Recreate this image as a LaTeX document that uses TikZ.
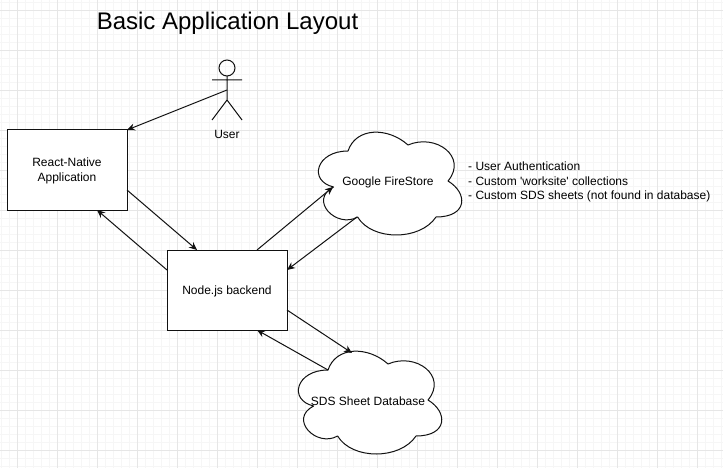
\documentclass[tikz,border=0pt]{standalone}
\usepackage{fontspec}
\setmainfont{Liberation Sans}
\usetikzlibrary{arrows.meta, positioning, calc}
\definecolor{gridmajor}{HTML}{E6E6E6}
\definecolor{gridminor}{HTML}{F6F6F6}
\definecolor{inkblack}{HTML}{111111}

\tikzset{
  boxnode/.style={draw=inkblack, fill=white, line width=1pt, inner sep=0pt, outer sep=0pt,
    minimum width=120pt, minimum height=80pt, align=center, font=\fontsize{12}{15}\selectfont},
  cloudtext/.style={inner sep=0pt, font=\fontsize{12}{15}\selectfont},
  flow/.style={draw=inkblack, line width=1pt, -{Stealth[length=8pt, width=7pt]}},
}

% cloud outline in a 160 x 120 box, top left corner at #1,#2
\newcommand{\drawcloud}[2]{
  \begin{scope}[shift={(#1,#2)}, x=1.6pt, y=-1.2pt]
    \draw[inkblack, fill=white, line width=1pt, line join=round]
      (25,25) .. controls (5,25) and (0,50) .. (16,55)
      .. controls (0,66) and (18,90) .. (31,80)
      .. controls (40,100) and (70,100) .. (80,80)
      .. controls (100,80) and (100,60) .. (87.5,50)
      .. controls (100,30) and (80,10) .. (62.5,20)
      .. controls (50,5) and (30,5) .. (25,25) -- cycle;
  \end{scope}
}

\begin{document}
\begin{tikzpicture}[x=1pt, y=-1pt]

  \useasboundingbox (0,0) rectangle (723,468);

  % === Background grid ===
  \fill[white] (0,0) rectangle (723,468);
  \foreach \gx in {1.5,9.5,...,721.5}
    \draw[gridminor, line width=1pt] (\gx,0) -- (\gx,468);
  \foreach \gy in {2.5,10.5,...,466.5}
    \draw[gridminor, line width=1pt] (0,\gy) -- (723,\gy);
  \foreach \gx in {17.5,57.5,...,697.5}
    \draw[gridmajor, line width=1pt] (\gx,0) -- (\gx,468);
  \foreach \gy in {10.5,50.5,...,450.5}
    \draw[gridmajor, line width=1pt] (0,\gy) -- (723,\gy);

  % Title
  \node[font=\fontsize{24}{28}\selectfont, inner sep=0pt] (title) at (227.5,23) {Basic Application Layout};

  % === User ===
  \draw[inkblack, line width=1pt] (227,68) circle (8);
  \draw[inkblack, line width=1pt] (227,76) -- (227,100)
    (212,80) -- (242,80)
    (212,120) -- (227,100) -- (242,120);
  \node[cloudtext] (userlabel) at (227,134) {User};
  \coordinate (userport) at (227,90);

  % === Boxes ===
  \node[boxnode] (reactbox) at (67,170) {};
  \node[cloudtext, align=center] (react) at (67,171) {React-Native\\Application};
  \node[boxnode] (backendbox) at (227,290) {};
  \node[cloudtext] (backend) at (227,291) {Node.js backend};

  % === Clouds ===
  \drawcloud{308}{121}
  \node[cloudtext] (firestore) at (388,182) {Google FireStore};
  \drawcloud{288}{340}
  \node[cloudtext] (sdsdb) at (368,401) {SDS Sheet Database};

  % Notes next to the cloud
  \node[anchor=west, align=left, inner sep=0pt, font=\fontsize{12}{14.5}\selectfont] (notes) at (468,182)
    {- User Authentication\\- Custom \textquotesingle worksite\textquotesingle{} collections\\- Custom SDS sheets (not found in database)};

  % Ports on the clouds
  \coordinate (firestorein) at (333,187);
  \coordinate (firestoreout) at (357,217);
  \coordinate (sdsin) at (352,353);
  \coordinate (sdsout) at (328,370);

  % === Connectors ===
  \draw[flow] (userport) -- ($(reactbox.north east)$);
  \draw[flow] ($(reactbox.south east)+(0,-20)$) -- ($(backendbox.north west)+(30,0)$);
  \draw[flow] ($(backendbox.north west)+(0,20)$) -- ($(reactbox.south east)+(-30,0)$);
  \draw[flow] ($(backendbox.north east)+(-30,0)$) -- (firestorein);
  \draw[flow] (firestoreout) -- ($(backendbox.north east)+(0,20)$);
  \draw[flow] ($(backendbox.south east)+(0,-20)$) -- (sdsin);
  \draw[flow] (sdsout) -- ($(backendbox.south east)+(-30,0)$);

\end{tikzpicture}
\end{document}
